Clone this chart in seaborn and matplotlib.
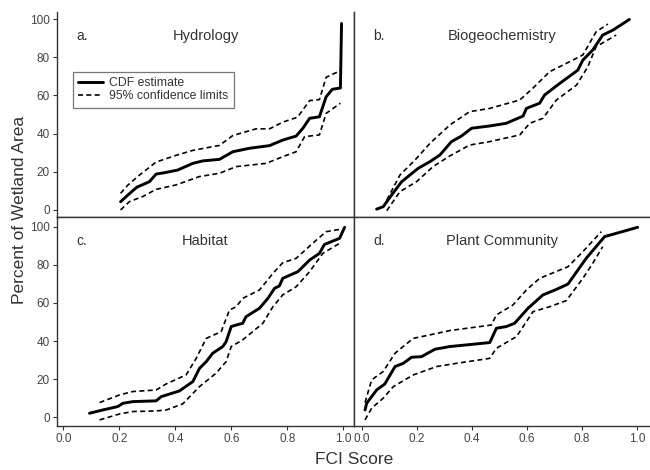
import numpy as np
import pandas as pd
import matplotlib
matplotlib.use("Agg")
import matplotlib.pyplot as plt
import seaborn as sns

sns.set_theme(style="white")
plt.rcParams['font.family'] = ['Liberation Sans', 'DejaVu Sans']

# ---- data ----
hyd_x = [.204, .23, .262, .307, .331, .361, .408, .462, .498, .557, .605, .664, .736, .783, .831, .855, .879, .914, .938, .96, .989, .993]
hyd_y = [4.3, 7.8, 11.9, 14.8, 18.8, 19.5, 20.9, 24.4, 25.7, 26.5, 30.5, 32.3, 33.7, 36.6, 38.7, 42.8, 48, 48.8, 59.3, 63.2, 63.9, 97.7]
hyd_ux = [.204, .23, .271, .331, .402, .462, .557, .605, .688, .736, .783, .836, .879, .914, .938, .989]
hyd_uy = [8.7, 13, 18.2, 25.1, 28.6, 31.2, 33.8, 39, 42.5, 42.5, 46, 48.6, 57.3, 57.8, 69.5, 73]
hyd_lx = [.204, .236, .283, .331, .402, .486, .557, .617, .724, .783, .831, .861, .914, .938, .989]
hyd_ly = [0, 4.4, 7, 10.8, 13.1, 17.5, 19.2, 22.7, 24.4, 27.9, 30.5, 38.4, 39.3, 50.6, 55.9]

bio_x = [.054, .078, .109, .145, .205, .248, .284, .326, .362, .399, .465, .525, .586, .598, .646, .664, .719, .761, .785, .803, .839, .875, .912, .972]
bio_y = [.4, 1.7, 7.9, 14.8, 21.8, 25.3, 28.8, 35.8, 38.7, 42.8, 44, 45.4, 49.2, 53.2, 55.9, 60.2, 66.3, 70.7, 73.3, 78.5, 83.8, 91.6, 94.2, 99.8]
bio_ux = [.091, .139, .199, .248, .32, .392, .465, .574, .621, .682, .743, .803, .851, .894]
bio_uy = [5.2, 18.3, 27, 34.9, 44.5, 51.5, 53.2, 57.6, 63.7, 72.4, 76.8, 81.2, 93.3, 97.4]
bio_lx = [.091, .139, .199, .259, .32, .392, .465, .574, .61, .658, .707, .78, .821, .851, .924]
bio_ly = [-.4, 9.6, 14.8, 22.7, 28.3, 34, 35.8, 39.3, 45.4, 48, 57.6, 65.4, 75, 85.5, 91.6]

hab_x = [.093, .14, .194, .212, .248, .331, .349, .414, .462, .486, .51, .533, .569, .581, .599, .617, .64, .652, .7, .73, .754, .771, .783, .837, .879, .914, .932, .986, 1.004]
hab_y = [2.1, 3.8, 5.6, 7.3, 8.2, 8.6, 10.8, 13.8, 18.7, 25.7, 29.2, 33.6, 37.1, 39.7, 47.6, 48.4, 49.3, 52.8, 57.2, 62.4, 67.7, 68.9, 72.9, 76.4, 82.5, 86, 90.7, 93.9, 99.7]
hab_ux = [.129, .2, .248, .331, .367, .438, .474, .51, .563, .593, .617, .64, .7, .748, .783, .831, .89, .938, .986]
hab_uy = [7.7, 11.7, 13.5, 14.3, 17.5, 22.2, 30.9, 41.4, 44.9, 56.3, 58, 62.4, 66.8, 75.5, 81.1, 83.4, 91.3, 97.4, 98.6]
hab_lx = [.129, .2, .248, .331, .367, .426, .486, .545, .581, .599, .64, .712, .748, .783, .831, .879, .926, .986]
hab_ly = [-1.4, 1.7, 3, 3.3, 3.8, 7, 16.1, 23.1, 29.2, 37.1, 40.6, 49.3, 58, 64.2, 68.5, 76.4, 86, 91.3]

pla_x = [.012, .018, .054, .084, .121, .151, .181, .217, .266, .32, .404, .465, .489, .525, .555, .604, .658, .707, .749, .815, .882, 1.002]
pla_y = [3.8, 7.3, 14.3, 17.5, 26.6, 28.3, 31.5, 31.8, 35.7, 37.1, 38.3, 39.2, 46.7, 47.6, 49.3, 57.2, 64.2, 67.1, 69.9, 83.4, 94.8, 99.7]
pla_ux = [.012, .036, .078, .121, .187, .247, .32, .471, .489, .549, .598, .646, .749, .803, .87]
pla_uy = [7.7, 19.6, 24, 33.6, 41.4, 43.2, 45.5, 48.4, 53.7, 58.9, 66.8, 72.9, 79, 86.9, 97.4]
pla_lx = [.012, .036, .078, .115, .187, .272, .344, .465, .489, .562, .622, .682, .743, .803, .839, .875]
pla_ly = [-1.4, 4.7, 10, 16.1, 22.2, 26.6, 28.3, 30.9, 36.2, 42.3, 55.4, 58, 61.2, 72.9, 80.8, 89.5]

panels = [
    ("a.", "Hydrology", hyd_x, hyd_y, hyd_ux, hyd_uy, hyd_lx, hyd_ly),
    ("b.", "Biogeochemistry", bio_x, bio_y, bio_ux, bio_uy, bio_lx, bio_ly),
    ("c.", "Habitat", hab_x, hab_y, hab_ux, hab_uy, hab_lx, hab_ly),
    ("d.", "Plant Community", pla_x, pla_y, pla_ux, pla_uy, pla_lx, pla_ly),
]
x_ticks = [0.0, 0.2, 0.4, 0.6, 0.8, 1.0]
y_ticks = [0, 20, 40, 60, 80, 100]

W, H = 650, 470
fig = plt.figure(figsize=(6.5, 4.7), dpi=100)
L, M, R = 57 / W, 354 / W, 649.5 / W
T, C, B = 1 - 12 / H, 1 - 217 / H, 1 - 426 / H
rects = [(L, C, M - L, T - C), (M, C, R - M, T - C),
         (L, B, M - L, C - B), (M, B, R - M, C - B)]
xlims = [(-0.023, 1.0375), (-0.028, 1.045), (-0.023, 1.0375), (-0.028, 1.045)]
ylims = [(-3.7, 103.7), (-3.7, 103.7), (-4.6, 105.1), (-4.6, 105.1)]

tc = "#444444"
sc = "#333333"
for i, (lab, title, x, y, ux, uy, lx, ly) in enumerate(panels):
    ax = fig.add_axes(rects[i])
    ax.set_facecolor("white")
    sns.lineplot(x=x, y=y, ax=ax, color="black", lw=2.1, sort=False, estimator=None,
                 label="CDF estimate" if i == 0 else None)
    sns.lineplot(x=ux, y=uy, ax=ax, color="black", lw=1.2, sort=False, estimator=None,
                 linestyle=(0, (3, 2)), label="95% confidence limits" if i == 0 else None)
    sns.lineplot(x=lx, y=ly, ax=ax, color="black", lw=1.2, sort=False, estimator=None,
                 linestyle=(0, (3, 2)))
    ax.set_xlim(*xlims[i])
    ax.set_ylim(*ylims[i])
    ax.set_xticks(x_ticks)
    ax.set_yticks(y_ticks)
    for s in ["left", "bottom", "right", "top"]:
        ax.spines[s].set_visible(True)
        ax.spines[s].set_color(sc)
        ax.spines[s].set_linewidth(1.0)
    if i in (0, 1):
        ax.spines["top"].set_visible(False)
    if i in (1, 3):
        ax.spines["right"].set_visible(False)
    ax.tick_params(axis="both", direction="out", length=3, width=0.8, color=sc,
                   labelsize=8.5, labelcolor=tc, pad=2)
    if i in (0, 2):
        ax.set_yticklabels([str(v) for v in y_ticks])
        ax.tick_params(axis="y", left=True)
    else:
        ax.tick_params(axis="y", left=False, labelleft=False)
    if i in (2, 3):
        ax.set_xticklabels([f"{v:.1f}" for v in x_ticks])
        ax.tick_params(axis="x", bottom=True)
    else:
        ax.tick_params(axis="x", bottom=False, labelbottom=False)
    ax.set_xlabel("")
    ax.set_ylabel("")
    ax.text(0.066, 0.885, lab, transform=ax.transAxes, fontsize=10, color=sc,
            ha="left", va="center")
    ax.text(0.5, 0.885, title, transform=ax.transAxes, fontsize=10.5, color=sc,
            ha="center", va="center")
    if i == 0:
        leg = ax.legend(loc="upper left", bbox_to_anchor=(0.053, 0.709), fontsize=8.8,
                        frameon=True, fancybox=False, handlelength=2.0,
                        borderpad=0.45, labelspacing=0.1, handletextpad=0.5,
                        borderaxespad=0)
        leg.get_frame().set_edgecolor("#555555")
        leg.get_frame().set_linewidth(0.9)
        for t in leg.get_texts():
            t.set_color(sc)
    else:
        lg = ax.get_legend()
        if lg:
            lg.remove()

fig.text(20 / W, 1 - 210 / H, "Percent of Wetland Area", rotation=90, fontsize=12.5,
         color=sc, ha="center", va="center")
fig.text(354 / W, 1 - 460 / H, "FCI Score", fontsize=12.5, color=sc, ha="center", va="center")

fig.savefig("out.png", dpi=100, facecolor="white")
